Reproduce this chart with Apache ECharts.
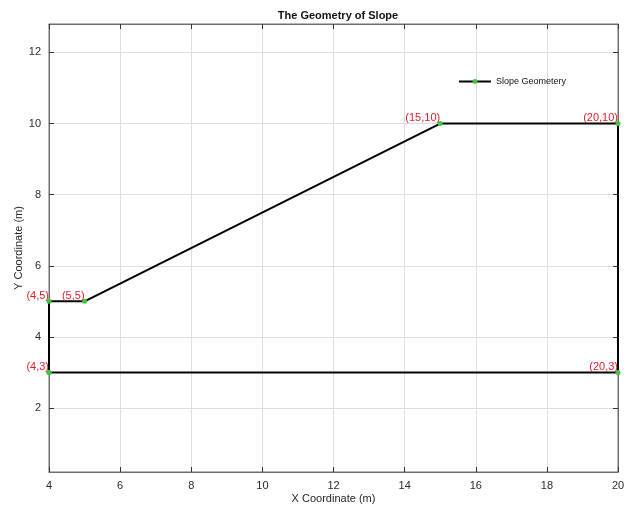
<!DOCTYPE html>
<html><head><meta charset="utf-8">
<script src="https://cdn.jsdelivr.net/npm/echarts@6/dist/echarts.min.js"></script>
<style>html,body{margin:0;padding:0;background:#fff}#c{width:634px;height:511px}</style>
</head><body><div id="c"></div>
<script>
const xs = [4, 4, 5, 15, 20, 20, 4];
const ys = [3, 5, 5, 10, 10, 3, 3];
const pointLabels = ['(4,3)', '(4,5)', '(5,5)', '(15,10)', '(20,10)', '(20,3)', ''];
const seriesName = 'Slope Geometery';
const xTicks = [4, 6, 8, 10, 12, 14, 16, 18, 20];
const yTicks = [2, 4, 6, 8, 10, 12];

const font = 'Liberation Sans, Arial, sans-serif';
const data = xs.map((x, i) => ({
  value: [x, ys[i]],
  label: { show: pointLabels[i] !== '', formatter: pointLabels[i] }
}));

const chart = echarts.init(document.getElementById('c'));
const axisLineCol = '#6e6e6e';
chart.setOption({
  animation: false,
  title: {
    text: 'The Geometry of Slope', left: 333, textAlign: 'center', top: 5,
    textStyle: { fontFamily: font, fontSize: 11, fontWeight: 'bold', color: '#111' }
  },
  grid: { left: 49, right: 16, top: 24, bottom: 39, show: true, borderColor: axisLineCol, borderWidth: 1 },
  legend: {
    left: 453, top: 72, itemWidth: 32, itemHeight: 6, itemGap: 4,
    textStyle: { fontFamily: font, fontSize: 9, color: '#111' },
    data: [seriesName]
  },
  xAxis: [{
    type: 'value', min: 4, max: 20,
    name: 'X Coordinate (m)', nameLocation: 'middle', nameGap: 21, nameMoveOverlap: false,
    nameTextStyle: { fontFamily: font, fontSize: 11, color: '#262626' },
    axisLine: { show: true, lineStyle: { color: axisLineCol } },
    axisTick: { show: true, inside: true, length: 5, customValues: xTicks, lineStyle: { color: '#333' } },
    axisLabel: { fontFamily: font, fontSize: 11, color: '#2a2a2a', margin: 8, customValues: xTicks },
    splitLine: { show: true, lineStyle: { color: '#dedede' } }
  }, {
    type: 'value', min: 4, max: 20, position: 'top',
    axisLine: { show: true, lineStyle: { color: axisLineCol } },
    axisTick: { show: true, inside: true, length: 5, customValues: xTicks, lineStyle: { color: '#333' } },
    axisLabel: { show: false }, splitLine: { show: false }
  }],
  yAxis: [{
    type: 'value', min: 0.2, max: 12.8,
    name: 'Y Coordinate (m)', nameLocation: 'middle', nameGap: 25, nameMoveOverlap: false,
    nameTextStyle: { fontFamily: font, fontSize: 11, color: '#262626' },
    axisLine: { show: true, lineStyle: { color: axisLineCol } },
    axisTick: { show: true, inside: true, length: 5, customValues: yTicks, lineStyle: { color: '#333' } },
    axisLabel: { fontFamily: font, fontSize: 11, color: '#2a2a2a', margin: 8, customValues: yTicks },
    splitLine: { show: true, lineStyle: { color: '#dedede' } }
  }, {
    type: 'value', min: 0.2, max: 12.8, position: 'right',
    axisLine: { show: true, lineStyle: { color: axisLineCol } },
    axisTick: { show: true, inside: true, length: 5, customValues: yTicks, lineStyle: { color: '#333' } },
    axisLabel: { show: false }, splitLine: { show: false }
  }],
  series: [{
    name: seriesName, type: 'line', data: data,
    symbol: 'circle', symbolSize: 5, showAllSymbol: true,
    itemStyle: { color: '#3cc83c' },
    lineStyle: { color: '#000', width: 2 },
    label: {
      position: [2.5, 2.5], align: 'right', verticalAlign: 'bottom',
      fontFamily: font, fontSize: 11, color: '#e0202a'
    },
    z: 3
  }]
});
</script></body></html>
